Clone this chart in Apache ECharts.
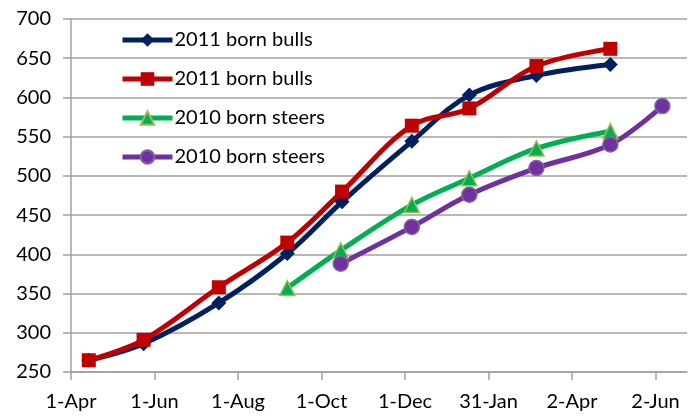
<!DOCTYPE html>
<html>
<head>
<meta charset="utf-8">
<script src="https://cdn.jsdelivr.net/npm/echarts@6/dist/echarts.min.js"></script>
<style>
  html, body { margin: 0; padding: 0; background: #fff; }
  #chart { width: 698px; height: 418px; }
</style>
</head>
<body>
<div id="chart"></div>
<script>
// x values are days after 1-Apr
const tickLabels = ["1-Apr", "1-Jun", "1-Aug", "1-Oct", "1-Dec", "31-Jan", "2-Apr", "2-Jun"];

const bullsADays = [13, 53, 108, 158, 198, 249, 291, 340, 394];
const bullsAValues = [265, 286, 338, 401, 467, 544, 603, 628, 642];

const bullsBDays = [13, 53, 108, 158, 198, 249, 291, 340, 394];
const bullsBValues = [265, 291, 358, 415, 480, 564, 586, 640, 662];

const steersADays = [158, 197, 249, 291, 340, 394];
const steersAValues = [357, 405, 463, 497, 535, 557];

const steersBDays = [197, 249, 291, 340, 394, 432];
const steersBValues = [388, 435, 476, 510, 540, 589];

const font = "Lato, 'Open Sans', sans-serif";

function pairs(days, values) {
  return days.map((d, i) => [d, values[i]]);
}

function line(name, days, values, color, symbol, extra) {
  return Object.assign({
    name,
    type: "line",
    data: pairs(days, values),
    smooth: 0.35,
    symbol,
    symbolSize: 13,
    lineStyle: { color, width: 5 },
    itemStyle: { color },
    emphasis: { disabled: true },
  }, extra || {});
}

const chart = echarts.init(document.getElementById("chart"));
chart.setOption({
  animation: false,
  grid: { left: 71, right: 11, top: 19, bottom: 46 },
  legend: {
    orient: "vertical",
    left: 120,
    top: 30,
    padding: 0,
    itemWidth: 50,
    itemHeight: 17,
    itemGap: 19,
    lineStyle: { width: 5 },
    textStyle: { fontFamily: font, fontSize: 20, lineHeight: 20, color: "#000", padding: [0, 0, 0, -3] },
    data: ["2011 born bulls", "2011 born bulls ", "2010 born steers", "2010 born steers "],
  },
  xAxis: {
    type: "value",
    min: 0,
    max: 450,
    interval: 61,
    axisLine: { show: true, lineStyle: { color: "#a0a0a0", width: 1.5 } },
    axisTick: { show: true, length: 8, lineStyle: { color: "#a0a0a0", width: 1.5 } },
    splitLine: { show: false },
    axisLabel: {
      fontFamily: font,
      fontSize: 20,
      color: "#000",
      margin: 20,
      showMaxLabel: false,
      formatter: (v) => tickLabels[Math.round(v / 61)] || "",
    },
  },
  yAxis: {
    type: "value",
    min: 250,
    max: 700,
    interval: 50,
    axisLine: { show: true, lineStyle: { color: "#a0a0a0", width: 1.5 } },
    axisTick: { show: true, length: 8, lineStyle: { color: "#a0a0a0", width: 1.5 } },
    splitLine: { lineStyle: { color: "#a0a0a0", width: 1.5 } },
    axisLabel: { fontFamily: font, fontSize: 20, color: "#000", margin: 20 },
  },
  series: [
    line("2011 born bulls", bullsADays, bullsAValues, "#002060", "diamond", { symbolSize: 15 }),
    line("2011 born bulls ", bullsBDays, bullsBValues, "#c00000", "rect", { symbolSize: 14 }),
    line("2010 born steers", steersADays, steersAValues, "#00b050", "triangle", {
      symbolSize: 15,
      itemStyle: { color: "#00b050", borderColor: "#9bbb59", borderWidth: 1.5 },
    }),
    line("2010 born steers ", steersBDays, steersBValues, "#7030a0", "circle", {
      symbolSize: 15,
      itemStyle: { color: "#7030a0", borderColor: "#8064a2", borderWidth: 1.5 },
    }),
  ],
});
</script>
</body>
</html>
